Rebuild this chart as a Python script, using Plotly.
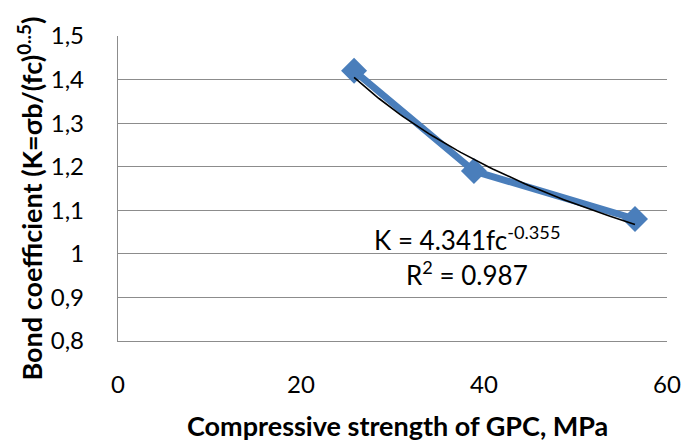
import numpy as np
import plotly.graph_objects as go

# Data
fc = [25.8, 38.9, 56.5]          # compressive strength of GPC, MPa
K = [1.42, 1.19, 1.08]           # bond coefficient
y_ticks = [0.8, 0.9, 1.0, 1.1, 1.2, 1.3, 1.4, 1.5]
y_ticktext = ["0,8", "0,9", "1", "1,1", "1,2", "1,3", "1,4", "1,5"]
x_ticks = [0, 20, 40, 60]
eq_text = "K = 4.341fc<sup>-0.355</sup>"
r2_text = "R<sup>2</sup> = 0.987"
x_title = "<b>Compressive strength of GPC, MPa</b>"
y_title = "<b>Bond coefficient (K=σb/(fc)<sup>0..5</sup>)</b>"

# Power trendline fitted from the data (as the spreadsheet does)
b, ln_a = np.polyfit(np.log(fc), np.log(K), 1)
xt = np.linspace(min(fc), max(fc), 80)
yt = np.exp(ln_a) * xt ** b

FONT = "Lato"
BLUE = "#4A7EBB"
GRID = "#8C8C8C"

fig = go.Figure()
fig.add_trace(go.Scatter(
    x=fc, y=K, mode="lines+markers",
    line=dict(color=BLUE, width=7),
    marker=dict(symbol="diamond", size=20, color=BLUE),
    showlegend=False, hoverinfo="skip"))
fig.add_trace(go.Scatter(
    x=xt, y=yt, mode="lines",
    line=dict(color="black", width=1.6),
    showlegend=False, hoverinfo="skip"))

# page has an 8px body margin, so the figure is drawn 8px smaller
fig.update_layout(
    width=685, height=433,
    margin=dict(l=109.5, r=20, t=23.7, b=100),
    paper_bgcolor="white", plot_bgcolor="white",
    font=dict(family=FONT, size=24, color="black"),
    xaxis=dict(range=[0, 60], tickvals=x_ticks, showgrid=False, zeroline=False,
               showline=True, linecolor=GRID, linewidth=1.3,
               ticks="", ticklabelstandoff=22,
               tickfont=dict(family=FONT, size=24, color="black")),
    yaxis=dict(range=[0.8, 1.5], tickvals=y_ticks, ticktext=y_ticktext,
               showgrid=True, gridcolor=GRID, gridwidth=1.3, zeroline=False,
               showline=True, linecolor=GRID, linewidth=1.3,
               ticks="", ticklabelstandoff=28,
               tickfont=dict(family=FONT, size=24, color="black")),
)
fig.add_annotation(text=eq_text, x=38.1, y=1.035, xref="x", yref="y",
                   xanchor="center", yanchor="middle", showarrow=False,
                   font=dict(family=FONT, size=26, color="black"))
fig.add_annotation(text=r2_text, x=38.1, y=0.955, xref="x", yref="y",
                   xanchor="center", yanchor="middle", showarrow=False,
                   font=dict(family=FONT, size=26, color="black"))
fig.add_annotation(text=x_title, x=0.5085, y=-0.278, xref="paper", yref="paper",
                   xanchor="center", yanchor="middle", showarrow=False,
                   font=dict(family=FONT, size=27, color="black"))
fig.add_annotation(text=y_title, x=-0.161, y=0.466, xref="paper", yref="paper",
                   xanchor="center", yanchor="middle", textangle=-90,
                   showarrow=False, font=dict(family=FONT, size=27, color="black"))

fig.write_html("out.html")
